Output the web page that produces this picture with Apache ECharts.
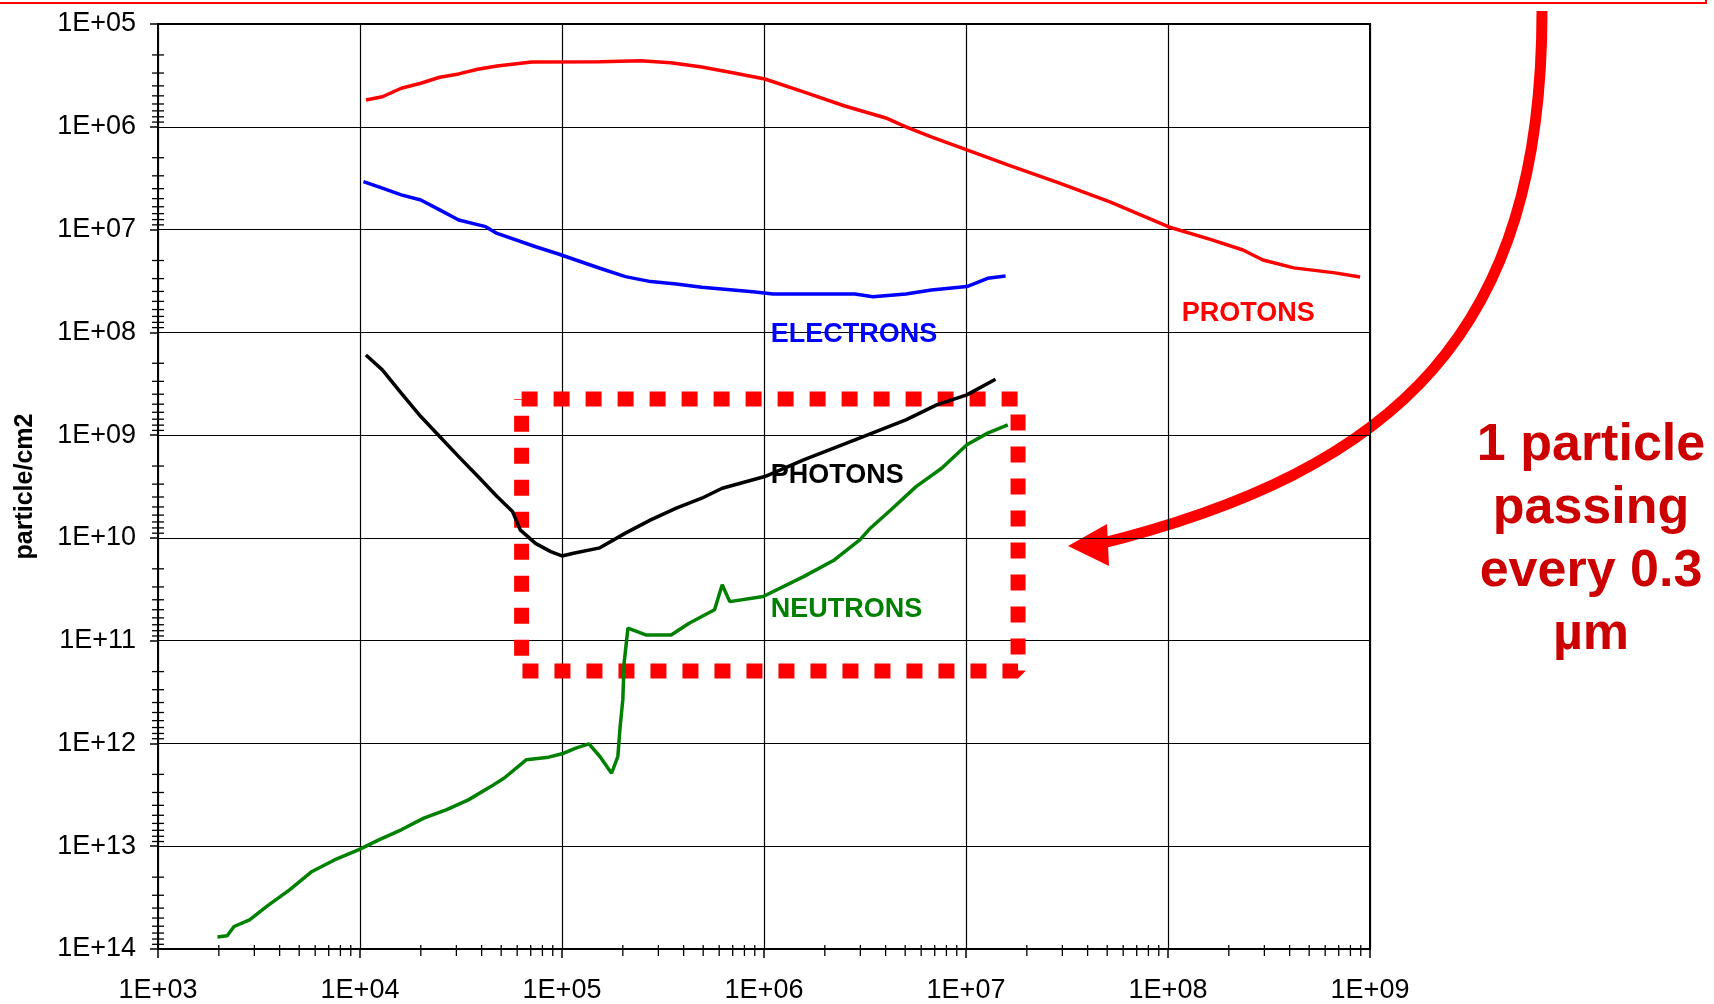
<!DOCTYPE html>
<html>
<head>
<meta charset="utf-8">
<script src="https://cdn.jsdelivr.net/npm/echarts@6/dist/echarts.min.js"></script>
<style>
  html, body { margin: 0; padding: 0; background: #fff; }
  #chart { width: 1714px; height: 1004px; }
</style>
</head>
<body>
<div id="chart"></div>
<script>
// values (x = energy, y = particle/cm2)
var protonsX = [1.07e4, 1.29e4, 1.6e4, 2.0e4, 2.48e4, 3.08e4, 3.82e4, 4.77e4, 7.08e4, 1.54e5, 2.45e5, 3.45e5, 4.92e5, 7.0e5, 1.01e6, 1.57e6, 2.51e6, 4.01e6, 5.04e6, 6.78e6, 1.01e7, 1.61e7, 2.88e7, 5.16e7, 1.01e8, 1.65e8, 2.35e8, 2.95e8, 4.2e8, 6.71e8, 8.93e8];
var protonsY = [5.49e5, 5.1e5, 4.22e5, 3.77e5, 3.3e5, 3.06e5, 2.76e5, 2.56e5, 2.34e5, 2.33e5, 2.28e5, 2.38e5, 2.62e5, 2.98e5, 3.43e5, 4.58e5, 6.28e5, 8.21e5, 1.0e6, 1.26e6, 1.68e6, 2.35e6, 3.52e6, 5.39e6, 9.44e6, 1.26e7, 1.58e7, 1.98e7, 2.36e7, 2.64e7, 2.89e7];

var electronsX = [1.04e4, 1.29e4, 1.6e4, 2.0e4, 2.48e4, 3.08e4, 4.19e4, 4.77e4, 7.41e4, 9.6e4, 1.54e5, 2.06e5, 2.75e5, 3.68e5, 4.92e5, 8.81e5, 1.11e6, 2.82e6, 3.46e6, 5.04e6, 6.74e6, 1.01e7, 1.28e7, 1.57e7];
var electronsY = [3.42e6, 3.96e6, 4.6e6, 5.15e6, 6.44e6, 8.07e6, 9.37e6, 1.09e7, 1.47e7, 1.73e7, 2.38e7, 2.87e7, 3.21e7, 3.38e7, 3.64e7, 4.02e7, 4.23e7, 4.23e7, 4.5e7, 4.23e7, 3.87e7, 3.59e7, 2.98e7, 2.83e7];

var photonsX = [1.07e4, 1.29e4, 1.6e4, 2.0e4, 2.48e4, 3.08e4, 3.84e4, 4.77e4, 5.69e4, 6.21e4, 7.39e4, 8.79e4, 1.0e5, 1.14e5, 1.54e5, 2.06e5, 2.75e5, 3.68e5, 4.92e5, 6.21e5, 1.01e6, 1.57e6, 2.82e6, 5.04e6, 7.16e6, 1.01e7, 1.4e7];
var photonsY = [1.66e8, 2.32e8, 3.91e8, 6.6e8, 1.03e9, 1.62e9, 2.53e9, 3.96e9, 5.54e9, 8.36e9, 1.13e10, 1.36e10, 1.5e10, 1.41e10, 1.25e10, 8.99e9, 6.68e9, 5.14e9, 4.11e9, 3.29e9, 2.53e9, 1.74e9, 1.11e9, 7.11e8, 5.08e8, 4.06e8, 2.86e8];

var neutronsX = [1.97e3, 2.2e3, 2.38e3, 2.84e3, 3.48e3, 4.48e3, 5.79e3, 7.47e3, 9.88e3, 1.24e4, 1.6e4, 2.07e4, 2.67e4, 3.44e4, 4.44e4, 5.18e4, 6.67e4, 8.59e4, 1.0e5, 1.17e5, 1.36e5, 1.54e5, 1.76e5, 1.89e5, 1.94e5, 2.0e5, 2.03e5, 2.12e5, 2.6e5, 3.47e5, 4.26e5, 5.69e5, 6.21e5, 6.77e5, 9.91e5, 1.57e6, 2.23e6, 2.99e6, 3.36e6, 4.24e6, 5.66e6, 7.58e6, 1.01e7, 1.28e7, 1.61e7];
var neutronsY = [7.66e13, 7.44e13, 6.04e13, 5.2e13, 3.8e13, 2.66e13, 1.76e13, 1.36e13, 1.08e13, 8.67e12, 6.92e12, 5.33e12, 4.43e12, 3.54e12, 2.63e12, 2.17e12, 1.44e12, 1.36e12, 1.26e12, 1.11e12, 1.01e12, 1.34e12, 1.95e12, 1.34e12, 6.85e11, 3.77e11, 1.66e11, 7.55e10, 8.79e10, 8.79e10, 6.76e10, 5.01e10, 2.86e10, 4.17e10, 3.72e10, 2.38e10, 1.64e10, 1.04e10, 8.05e9, 5.35e9, 3.17e9, 2.1e9, 1.24e9, 9.57e8, 7.96e8];

// dotted highlight box (corners in data units)
var boxX = [6.31e4, 1.81e7, 1.81e7, 6.31e4, 6.31e4];
var boxY = [4.45e8, 4.45e8, 1.97e11, 1.97e11, 4.45e8];

// decades shown on the axes
var xDecades = [3, 4, 5, 6, 7, 8];
var yDecades = [5, 6, 7, 8, 9, 10, 11, 12, 13];

// series labels
var labelNames = ['PROTONS', 'ELECTRONS', 'PHOTONS', 'NEUTRONS'];
var labelX = [1.17e8, 1.08e6, 1.08e6, 1.08e6];
var labelY = [6.5e7, 1.06e8, 2.5e9, 5.0e10];

function zip(xs, ys) {
  return xs.map(function (x, i) { return [x, ys[i]]; });
}

var xMinor = [];
xDecades.forEach(function (d) {
  for (var k = 2; k <= 9; k++) xMinor.push([k * Math.pow(10, d), 1e14]);
});
var yMinor = [];
yDecades.forEach(function (d) {
  for (var k = 2; k <= 9; k++) yMinor.push([1e3, k * Math.pow(10, d)]);
});

function expLabel(v) {
  var e = Math.round(Math.log10(v));
  return '1E+' + (e < 10 ? '0' : '') + e;
}

var font = 'Liberation Sans';

function curve(name, xs, ys, color, idx) {
  return {
    name: name,
    type: 'line',
    data: zip(xs, ys),
    showSymbol: false,
    silent: true,
    z: 3,
    lineStyle: { color: color, width: 3.5 },
    markPoint: {
      symbol: 'circle',
      symbolSize: 0,
      silent: true,
      label: {
        show: true,
        position: 'right',
        distance: 0,
        formatter: labelNames[idx],
        color: color,
        fontFamily: font,
        fontWeight: 'bold',
        fontSize: 27
      },
      data: [{ coord: [labelX[idx], labelY[idx]] }]
    }
  };
}

var myChart = echarts.init(document.getElementById('chart'));

var option = {
  animation: false,
  backgroundColor: '#fff',
  grid: {
    left: 158, right: 344, top: 24, bottom: 55,
    show: true, borderColor: '#000', borderWidth: 2
  },
  xAxis: {
    type: 'log',
    logBase: 10,
    min: 1e3,
    max: 1e9,
    interval: 1,
    axisLine: { show: true, lineStyle: { color: '#000', width: 2 } },
    axisTick: { show: true, length: 9, lineStyle: { color: '#000', width: 1.5 } },
    axisLabel: { formatter: expLabel, color: '#000', fontFamily: font, fontSize: 27, margin: 28 },
    splitLine: { show: true, lineStyle: { color: '#000', width: 1.2 } }
  },
  yAxis: {
    type: 'log',
    logBase: 10,
    min: 1e5,
    max: 1e14,
    interval: 1,
    inverse: true,
    name: 'particle/cm2',
    nameLocation: 'middle',
    nameRotate: 90,
    nameGap: 120,
    nameTextStyle: { color: '#000', fontFamily: font, fontWeight: 'bold', fontSize: 25 },
    axisLine: { show: true, lineStyle: { color: '#000', width: 2 } },
    axisTick: { show: true, length: 8, lineStyle: { color: '#000', width: 1.5 } },
    axisLabel: { formatter: expLabel, color: '#000', fontFamily: font, fontSize: 27, margin: 22 },
    splitLine: { show: true, lineStyle: { color: '#000', width: 1.2 } }
  },
  series: [
    {
      // red dotted box
      type: 'line',
      data: zip(boxX, boxY),
      showSymbol: false,
      silent: true,
      z: 2,
      lineStyle: { color: '#ff0000', width: 15, type: [16, 16], cap: 'butt' }
    },
    curve('PROTONS', protonsX, protonsY, '#ff0000', 0),
    curve('ELECTRONS', electronsX, electronsY, '#0000ff', 1),
    curve('PHOTONS', photonsX, photonsY, '#000000', 2),
    curve('NEUTRONS', neutronsX, neutronsY, '#008000', 3),
    {
      // minor ticks on the log x axis
      type: 'custom',
      data: xMinor,
      silent: true,
      z: 4,
      renderItem: function (params, api) {
        var p = api.coord([api.value(0), api.value(1)]);
        return { type: 'line', shape: { x1: p[0], y1: p[1] - 4, x2: p[0], y2: p[1] + 7 }, style: { stroke: '#000', lineWidth: 1.3 } };
      }
    },
    {
      // minor ticks on the log y axis
      type: 'custom',
      data: yMinor,
      silent: true,
      z: 4,
      renderItem: function (params, api) {
        var p = api.coord([api.value(0), api.value(1)]);
        return { type: 'line', shape: { x1: p[0] - 6, y1: p[1], x2: p[0] + 6, y2: p[1] }, style: { stroke: '#000', lineWidth: 1.3 } };
      }
    }
  ],
  graphic: [
    // red frame edge along the top
    { type: 'rect', shape: { x: -2, y: -10, width: 1708, height: 13 }, style: { fill: null, stroke: '#ff0000', lineWidth: 2 } },
    // curved arrow
    { type: 'bezierCurve', shape: { x1: 1542, y1: 11, cpx1: 1542, cpy1: 330, cpx2: 1400, cpy2: 470, x2: 1095, y2: 545 }, style: { stroke: '#ff0000', lineWidth: 11, fill: null } },
    { type: 'polygon', shape: { points: [[1068, 546], [1107, 524], [1109, 566]] }, style: { fill: '#ff0000' } },
    {
      type: 'text',
      x: 1591,
      y: 414,
      style: {
        text: '1 particle\npassing\nevery 0.3\n\u00b5m',
        fill: '#cc0000',
        fontFamily: font,
        fontWeight: 'bold',
        fontSize: 52,
        lineHeight: 63,
        align: 'center',
        verticalAlign: 'top'
      }
    }
  ]
};

myChart.setOption(option);
</script>
</body>
</html>
